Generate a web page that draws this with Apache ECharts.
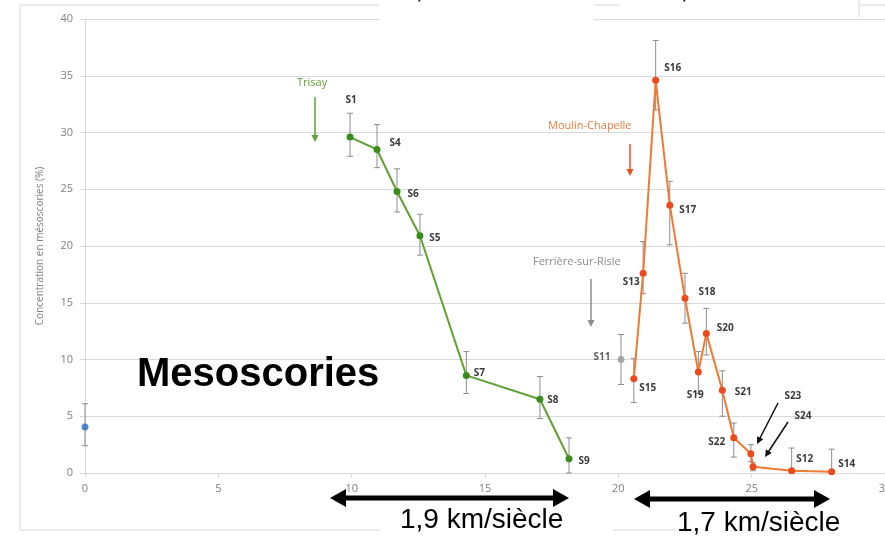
<!DOCTYPE html>
<html>
<head>
<meta charset="utf-8">
<script src="https://cdn.jsdelivr.net/npm/echarts@6/dist/echarts.min.js"></script>
<style>
  html, body { margin: 0; padding: 0; background: #fff; }
  #main { width: 885px; height: 540px; }
</style>
</head>
<body>
<div id="main"></div>
<script>
// axes
var xTicks = [0, 5, 10, 15, 20, 25, 30];
var yTicks = [0, 5, 10, 15, 20, 25, 30, 35, 40];

// Trisay (vert)
var trisayNames = ['S1', 'S4', 'S6', 'S5', 'S7', 'S8', 'S9'];
var trisayX = [9.94, 10.95, 11.7, 12.56, 14.3, 17.06, 18.15];
var trisayY = [29.6, 28.5, 24.8, 20.9, 8.6, 6.5, 1.25];
var trisayLow = [27.9, 26.9, 23.0, 19.2, 7.0, 4.8, 0];
var trisayHigh = [31.7, 30.7, 26.8, 22.8, 10.7, 8.5, 3.1];

// Moulin-Chapelle (orange)
var moulinNames = ['S15', 'S13', 'S16', 'S17', 'S18', 'S19', 'S20', 'S21', 'S22', 'S23', 'S24', 'S12', 'S14'];
var moulinX = [20.58, 20.93, 21.4, 21.93, 22.5, 23.0, 23.3, 23.9, 24.33, 24.97, 25.05, 26.5, 28.0];
var moulinY = [8.3, 17.6, 34.6, 23.6, 15.4, 8.9, 12.3, 7.3, 3.1, 1.7, 0.55, 0.2, 0.1];
var moulinLow = [6.2, 15.8, 32.0, 20.1, 13.2, 7.0, 10.4, 5.0, 1.4, 1.0, 0.2, 0, 0];
var moulinHigh = [10.1, 20.4, 38.1, 25.7, 17.6, 10.7, 14.5, 9.0, 4.4, 2.5, 0.9, 2.2, 2.1];

// Ferrière-sur-Risle (gris) et témoin (bleu)
var ferriereNames = ['S11'];
var ferriereX = [20.1];
var ferriereY = [10.0];
var ferriereLow = [7.8];
var ferriereHigh = [12.2];

var refX = [0];
var refY = [4.05];
var refLow = [2.4];
var refHigh = [6.1];

// position des étiquettes (décalage en px par rapport au point)
var labelOffsets = {
    S1: [1, -37], S4: [18, -6], S6: [16, 3], S5: [15, 2], S7: [13, -2], S8: [13, 1], S9: [15, 2],
    S11: [-19, -2],
    S15: [14, 9], S13: [-12, 9], S16: [17, -12], S17: [18, 5], S18: [22, -6], S19: [-3, 23],
    S20: [19, -5], S21: [21, 2], S22: [-17, 4], S23: [42, -58], S24: [50, -51], S12: [13, -12], S14: [15, -8]
};

function buildPoints(names, xs, ys) {
    var out = [];
    for (var i = 0; i < xs.length; i++) {
        var item = { value: [xs[i], ys[i]] };
        if (names && names[i]) {
            var off = labelOffsets[names[i]] || [12, 0];
            item.name = names[i];
            item.label = {
                show: true,
                position: 'inside',
                offset: off,
                formatter: names[i],
                color: '#3a3a3a',
                fontSize: 10,
                fontWeight: 'bold',
                fontFamily: 'Open Sans'
            };
        }
        out.push(item);
    }
    return out;
}

function buildErr(xs, lows, highs) {
    var out = [];
    for (var i = 0; i < xs.length; i++) {
        out.push([xs[i], lows[i], highs[i]]);
    }
    return out;
}

var allErr = buildErr(refX, refLow, refHigh)
    .concat(buildErr(trisayX, trisayLow, trisayHigh))
    .concat(buildErr(ferriereX, ferriereLow, ferriereHigh))
    .concat(buildErr(moulinX, moulinLow, moulinHigh));

function renderErr(params, api) {
    var lo = api.coord([api.value(0), api.value(1)]);
    var hi = api.coord([api.value(0), api.value(2)]);
    var cap = 3;
    var st = { stroke: '#8c8c8c', lineWidth: 1 };
    return {
        type: 'group',
        children: [
            { type: 'line', shape: { x1: lo[0], y1: lo[1], x2: hi[0], y2: hi[1] }, style: st },
            { type: 'line', shape: { x1: lo[0] - cap, y1: lo[1], x2: lo[0] + cap, y2: lo[1] }, style: st },
            { type: 'line', shape: { x1: hi[0] - cap, y1: hi[1], x2: hi[0] + cap, y2: hi[1] }, style: st }
        ]
    };
}

function arrow(x1, y1, x2, y2, color, w, head) {
    var a = Math.atan2(y2 - y1, x2 - x1);
    var h = head || 6;
    return [
        { type: 'line', shape: { x1: x1, y1: y1, x2: x2 - Math.cos(a) * h * 0.6, y2: y2 - Math.sin(a) * h * 0.6 },
          style: { stroke: color, lineWidth: w }, z: 50 },
        { type: 'polygon', shape: { points: [
            [x2, y2],
            [x2 - Math.cos(a) * h + Math.sin(a) * h * 0.5, y2 - Math.sin(a) * h - Math.cos(a) * h * 0.5],
            [x2 - Math.cos(a) * h - Math.sin(a) * h * 0.5, y2 - Math.sin(a) * h + Math.cos(a) * h * 0.5]
        ] }, style: { fill: color }, z: 50 }
    ];
}

function doubleArrow(x1, x2, y) {
    var out = [];
    out.push({ type: 'line', shape: { x1: x1 + 12, y1: y, x2: x2 - 12, y2: y }, style: { stroke: '#000', lineWidth: 5 }, z: 60 });
    out.push({ type: 'polygon', shape: { points: [[x1, y], [x1 + 16, y - 9], [x1 + 16, y + 9]] }, style: { fill: '#000' }, z: 60 });
    out.push({ type: 'polygon', shape: { points: [[x2, y], [x2 - 16, y - 9], [x2 - 16, y + 9]] }, style: { fill: '#000' }, z: 60 });
    return out;
}

var graphics = [
    // cadre du graphique
    { type: 'rect', shape: { x: 20, y: 5, width: 900, height: 525 }, style: { fill: 'none', stroke: '#d9d9d9', lineWidth: 1 }, z: -10 },
    // encadrés du haut (coupés)
    { type: 'rect', shape: { x: 379, y: 0, width: 215, height: 20 }, style: { fill: '#fff' }, z: 70 },
    { type: 'text', left: 400, top: -24, style: { text: '1,3 km/siècle', font: '28px "Liberation Sans"', fill: '#000' }, z: 71 },
    { type: 'rect', shape: { x: 620, y: 0, width: 240, height: 18 }, style: { fill: '#fff' }, z: 70 },
    { type: 'line', shape: { x1: 859, y1: 0, x2: 859, y2: 17 }, style: { stroke: '#d9d9d9', lineWidth: 1 }, z: 71 },
    { type: 'text', left: 665, top: -24, style: { text: '1,50 km/siècle', font: '28px "Liberation Sans"', fill: '#000' }, z: 71 },
    // encadrés du bas
    { type: 'rect', shape: { x: 380, y: 508, width: 233, height: 32 }, style: { fill: '#fff' }, z: 55 },
    { type: 'rect', shape: { x: 675, y: 508, width: 210, height: 32 }, style: { fill: '#fff' }, z: 55 },
    { type: 'text', left: 400, top: 506, style: { text: '1,9 km/siècle', font: '28px "Liberation Sans"', fill: '#000' }, z: 61 },
    { type: 'text', left: 677, top: 509, style: { text: '1,7 km/siècle', font: '28px "Liberation Sans"', fill: '#000' }, z: 61 },
    // titre
    { type: 'text', left: 137, top: 355, style: { text: 'Mesoscories', font: 'bold 40px "Liberation Sans"', fill: '#000' }, z: 60 },
    // sites
    { type: 'text', left: 297, top: 77, style: { text: 'Trisay', font: '11px "Open Sans"', fill: '#5fa133' }, z: 50 },
    { type: 'text', left: 548, top: 120, style: { text: 'Moulin-Chapelle', font: '11px "Open Sans"', fill: '#ee7a3c' }, z: 50 },
    { type: 'text', left: 533, top: 256, style: { text: 'Ferrière-sur-Risle', font: '11px "Open Sans"', fill: '#8c8c8c' }, z: 50 }
];
graphics = graphics
    .concat(arrow(315, 97, 315, 142, '#5fa133', 1.5, 7))
    .concat(arrow(630, 144, 630, 176, '#e8501e', 1.5, 7))
    .concat(arrow(591, 279, 591, 327, '#8c8c8c', 1.5, 7))
    .concat(arrow(778, 403, 757, 444, '#111', 1.5, 7))
    .concat(arrow(788, 422, 765, 457, '#111', 1.5, 7))
    .concat(doubleArrow(330, 569, 498))
    .concat(doubleArrow(634, 830, 499));

var myChart = echarts.init(document.getElementById('main'));
var option = {
    backgroundColor: '#fff',
    animation: false,
    grid: { left: 85, right: 0, top: 19, bottom: 67, outerBoundsMode: 'none', containLabel: false },
    xAxis: {
        type: 'value',
        min: xTicks[0],
        max: xTicks[xTicks.length - 1],
        interval: 5,
        axisLine: { show: true, lineStyle: { color: '#d9d9d9' } },
        axisTick: { show: true, length: 4, lineStyle: { color: '#d9d9d9' } },
        axisLabel: { color: '#7f7f7f', fontSize: 11, fontFamily: 'Open Sans', margin: 10 },
        splitLine: { show: false }
    },
    yAxis: {
        type: 'value',
        min: yTicks[0],
        max: yTicks[yTicks.length - 1],
        interval: 5,
        name: 'Concentration en mésoscories (%)',
        nameLocation: 'middle',
        nameGap: 40,
        nameTextStyle: { color: '#7f7f7f', fontSize: 10, fontFamily: 'Open Sans' },
        axisLine: { show: true, lineStyle: { color: '#d9d9d9' } },
        axisTick: { show: true, length: 5, lineStyle: { color: '#d9d9d9' } },
        axisLabel: { color: '#7f7f7f', fontSize: 11, fontFamily: 'Open Sans', margin: 12 },
        splitLine: { show: true, lineStyle: { color: '#d9d9d9', width: 1 } }
    },
    series: [
        {
            type: 'custom',
            renderItem: renderErr,
            data: allErr,
            z: 1
        },
        {
            name: 'Témoin',
            type: 'scatter',
            symbolSize: 7,
            itemStyle: { color: '#2a6bbf' },
            data: buildPoints(null, refX, refY),
            z: 3
        },
        {
            name: 'Trisay',
            type: 'line',
            symbol: 'circle',
            symbolSize: 7,
            lineStyle: { color: '#5fa133', width: 2 },
            itemStyle: { color: '#3a8c1c' },
            data: buildPoints(trisayNames, trisayX, trisayY),
            z: 3
        },
        {
            name: 'Ferrière-sur-Risle',
            type: 'scatter',
            symbolSize: 7,
            itemStyle: { color: '#9a9a9a' },
            data: buildPoints(ferriereNames, ferriereX, ferriereY),
            z: 3
        },
        {
            name: 'Moulin-Chapelle',
            type: 'line',
            symbol: 'circle',
            symbolSize: 7,
            lineStyle: { color: '#f07a32', width: 2 },
            itemStyle: { color: '#ec4a1c' },
            data: buildPoints(moulinNames, moulinX, moulinY),
            z: 3
        }
    ],
    graphic: graphics
};
myChart.setOption(option);
</script>
</body>
</html>
